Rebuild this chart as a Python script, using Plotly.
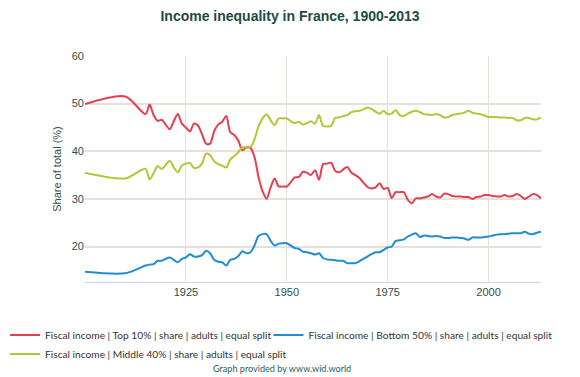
import plotly.graph_objects as go

years = [1900, 1910] + list(range(1915, 2014))

top10 = [49.9, 51.5,
         47.8, 49.8, 47.6, 46.4, 46.6, 45.6, 44.6, 46.3, 47.8, 45.8,
         45.0, 44.2, 45.8, 45.4, 43.6, 41.6, 41.6, 44.2, 45.6, 46.2,
         47.4, 44.0, 43.4, 42.2, 40.2, 40.8, 40.7, 38.8, 34.6, 31.6,
         30.0, 32.4, 34.3, 32.6, 32.6, 32.6, 33.5, 34.5, 34.6, 35.7,
         35.5, 35.0, 36.0, 34.0, 37.3, 37.4, 37.6, 35.9, 35.6, 36.2,
         36.7, 35.5, 35.0, 34.4, 33.4, 32.5, 32.2, 32.4, 33.3, 32.1,
         32.3, 30.2, 31.4, 31.4, 31.4, 29.8, 29.1, 30.1, 30.1, 30.3,
         30.5, 31.0, 30.5, 30.3, 31.1, 31.0, 30.6, 30.5, 30.5, 30.4,
         30.4, 30.0, 30.4, 30.5, 30.8, 30.8, 30.6, 30.5, 30.5, 30.8,
         30.5, 30.6, 31.0, 30.6, 30.0, 30.5, 31.0, 30.8, 30.1]

middle40 = [35.5, 34.3,
            36.3, 34.1, 35.4, 36.9, 36.3, 37.1, 38.0, 36.6, 35.6, 37.0,
            37.4, 37.5, 36.5, 36.6, 37.4, 39.5, 39.2, 37.9, 37.3, 37.0,
            36.6, 38.3, 39.0, 39.8, 40.8, 40.8, 40.9, 42.5, 45.2, 46.9,
            47.7, 46.5, 45.5, 46.9, 46.9, 46.9, 46.3, 45.9, 46.2, 45.6,
            45.9, 46.3, 45.8, 47.6, 45.3, 45.2, 45.3, 47.0, 47.1, 47.4,
            47.6, 48.2, 48.4, 48.5, 48.8, 49.2, 48.9, 48.3, 47.9, 48.5,
            47.8, 47.9, 48.6, 47.6, 47.4, 47.9, 48.3, 48.5, 48.2, 47.8,
            47.7, 47.6, 47.8, 47.6, 47.1, 47.2, 47.6, 47.8, 47.9, 48.1,
            48.5, 48.1, 47.9, 47.8, 47.5, 47.2, 47.2, 47.2, 47.1, 47.1,
            47.0, 47.0, 46.5, 46.5, 47.0, 47.0, 46.7, 46.7, 47.1]

bottom50 = [14.7, 14.4,
            16.0, 16.2, 16.3, 17.0, 17.0, 17.4, 17.7, 17.2, 16.7, 17.4,
            17.7, 18.4, 17.9, 17.9, 18.2, 19.1, 18.6, 17.2, 16.8, 16.7,
            16.0, 17.2, 17.4, 18.0, 19.0, 18.6, 18.8, 20.2, 22.2, 22.6,
            22.6, 21.2, 20.2, 20.6, 20.7, 20.7, 20.2, 19.7, 19.5, 18.9,
            18.8, 18.6, 18.3, 18.6, 17.6, 17.3, 17.2, 17.1, 17.0, 17.0,
            16.5, 16.5, 16.5, 16.9, 17.4, 17.9, 18.4, 18.8, 18.8, 19.3,
            19.8, 20.0, 21.2, 21.3, 21.5, 22.1, 22.5, 22.8, 22.0, 22.3,
            22.2, 22.1, 22.2, 22.1, 21.8, 21.8, 21.9, 21.9, 21.8, 21.7,
            21.4, 21.9, 21.9, 21.9, 22.0, 22.1, 22.3, 22.5, 22.6, 22.6,
            22.7, 22.8, 22.8, 22.8, 23.1, 22.7, 22.6, 22.9, 23.1]

series_names = ["Fiscal income | Top 10% | share | adults | equal split",
                "Fiscal income | Bottom 50% | share | adults | equal split",
                "Fiscal income | Middle 40% | share | adults | equal split"]

x_tickvals = [1900, 1925, 1950, 1975, 2000]
x_ticktext = ["", "1925", "1950", "1975", "2000"]
y_tickvals = [20, 30, 40, 50, 60]

title_text = "Income inequality in France, 1900-2013"
y_title = "Share of total (%)"
credit = "Graph provided by www.wid.world"

colors = ["#e2404e", "#1f8dd0", "#b2c637"]
data = [top10, bottom50, middle40]
legend_ids = ["legend", "legend2", "legend"]

# the page body adds an 8px offset; the figure is sized to fill the rest
W, H = 572, 369
OFF = 8
L, R, T, B = 84.7 - OFF, 580 - 541.5, 55.5 - OFF, 377 - 282.3
plot_w = W - L - R
plot_h = H - T - B

def px_x(page_x):
    return (page_x - OFF - L) / plot_w

def px_y(page_y):
    return -(page_y - OFF - (H - B)) / plot_h

fig = go.Figure()
for name, vals, col, lg in zip(series_names, data, colors, legend_ids):
    fig.add_trace(go.Scatter(x=years, y=vals, mode="lines", name=name, legend=lg,
                             line=dict(color=col, width=2, shape="spline", smoothing=0.8)))

font_family = "Liberation Sans, Arial, sans-serif"
legend_family = "Lato, Liberation Sans, sans-serif"
legend_font = dict(size=10.2, color="#333333", family=legend_family)
legend_top = px_y(321)

fig.update_layout(
    width=W, height=H,
    margin=dict(l=L, r=R, t=T, b=B, autoexpand=False),
    paper_bgcolor="white", plot_bgcolor="white",
    font=dict(family=font_family, size=11, color="#333333"),
    title=dict(text="<b>" + title_text + "</b>", x=(290 - OFF) / W, xanchor="center",
               y=1 - (16 - OFF) / H, yanchor="middle",
               font=dict(size=14, color="#1d4a46", family=font_family)),
    showlegend=True,
    legend=dict(orientation="v", xref="paper", yref="paper",
                x=px_x(4.6), xanchor="left", y=legend_top, yanchor="top",
                font=legend_font, tracegroupgap=0, itemwidth=30,
                bgcolor="rgba(0,0,0,0)"),
    legend2=dict(orientation="v", xref="paper", yref="paper",
                 x=px_x(268.5), xanchor="left", y=legend_top, yanchor="top",
                 font=legend_font, tracegroupgap=0, itemwidth=30,
                 bgcolor="rgba(0,0,0,0)"),
    xaxis=dict(range=[1900, 2013], tickvals=x_tickvals, ticktext=x_ticktext,
               showgrid=True, gridcolor="#e3e1da", gridwidth=1,
               showline=True, linecolor="#ccd6eb", linewidth=1,
               zeroline=False, ticks="", automargin=False,
               tickfont=dict(size=11, color="#2f4f4c")),
    yaxis=dict(range=[12.55, 60], tickvals=y_tickvals,
               showgrid=True, gridcolor="#e3e1da", gridwidth=1.5,
               zeroline=False, ticks="", showline=False, automargin=False,
               tickfont=dict(size=11, color="#2f4f4c"),
               title=dict(text=y_title, font=dict(size=11, color="#2f4f4c"), standoff=7)),
    annotations=[dict(text=credit, xref="paper", yref="paper",
                      x=px_x(281.6), y=px_y(369),
                      xanchor="center", yanchor="middle", showarrow=False,
                      font=dict(size=9.1, color="#2b5e58", family=legend_family))],
)

fig.write_html("out.html")
